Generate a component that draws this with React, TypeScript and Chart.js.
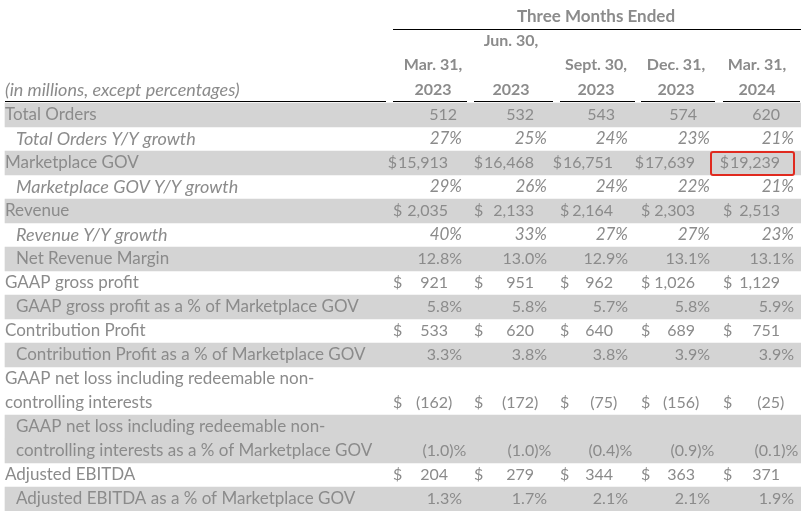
import React, { useEffect, useRef } from "react";
import { Chart, registerables } from "chart.js";

Chart.register(...registerables);

// ---------- data ----------
const periodTop = ["Mar. 31,", "Jun. 30,", "Sept. 30,", "Dec. 31,", "Mar. 31,"];
const periodYear = ["2023", "2023", "2023", "2023", "2024"];
const groupTitle = "Three Months Ended";
const unitNote = "(in millions, except percentages)";

const totalOrders = [512, 532, 543, 574, 620];
const totalOrdersGrowth = [27, 25, 24, 23, 21];
const marketplaceGOV = [15913, 16468, 16751, 17639, 19239];
const marketplaceGOVGrowth = [29, 26, 24, 22, 21];
const revenue = [2035, 2133, 2164, 2303, 2513];
const revenueGrowth = [40, 33, 27, 27, 23];
const netRevenueMargin = [12.8, 13.0, 12.9, 13.1, 13.1];
const gaapGrossProfit = [921, 951, 962, 1026, 1129];
const gaapGrossProfitPct = [5.8, 5.8, 5.7, 5.8, 5.9];
const contributionProfit = [533, 620, 640, 689, 751];
const contributionProfitPct = [3.3, 3.8, 3.8, 3.9, 3.9];
const gaapNetLoss = [-162, -172, -75, -156, -25];
const gaapNetLossPct = [-1.0, -1.0, -0.4, -0.9, -0.1];
const adjustedEBITDA = [204, 279, 344, 363, 371];
const adjustedEBITDAPct = [1.3, 1.7, 2.1, 2.1, 1.9];

type Fmt = "int" | "pct0" | "pct1" | "cur";
interface Row {
  label: string[];
  values: number[];
  fmt: Fmt;
  italic?: boolean;
  indent?: boolean;
  shaded: boolean;
}

const rows: Row[] = [
  { label: ["Total Orders"], values: totalOrders, fmt: "int", shaded: true },
  { label: ["Total Orders Y/Y growth"], values: totalOrdersGrowth, fmt: "pct0", italic: true, indent: true, shaded: false },
  { label: ["Marketplace GOV"], values: marketplaceGOV, fmt: "cur", shaded: true },
  { label: ["Marketplace GOV Y/Y growth"], values: marketplaceGOVGrowth, fmt: "pct0", italic: true, indent: true, shaded: false },
  { label: ["Revenue"], values: revenue, fmt: "cur", shaded: true },
  { label: ["Revenue Y/Y growth"], values: revenueGrowth, fmt: "pct0", italic: true, indent: true, shaded: false },
  { label: ["Net Revenue Margin"], values: netRevenueMargin, fmt: "pct1", indent: true, shaded: true },
  { label: ["GAAP gross profit"], values: gaapGrossProfit, fmt: "cur", shaded: false },
  { label: ["GAAP gross profit as a % of Marketplace GOV"], values: gaapGrossProfitPct, fmt: "pct1", indent: true, shaded: true },
  { label: ["Contribution Profit"], values: contributionProfit, fmt: "cur", shaded: false },
  { label: ["Contribution Profit as a % of Marketplace GOV"], values: contributionProfitPct, fmt: "pct1", indent: true, shaded: true },
  { label: ["GAAP net loss including redeemable non-", "controlling interests"], values: gaapNetLoss, fmt: "cur", shaded: false },
  { label: ["GAAP net loss including redeemable non-", "controlling interests as a % of Marketplace GOV"], values: gaapNetLossPct, fmt: "pct1", indent: true, shaded: true },
  { label: ["Adjusted EBITDA"], values: adjustedEBITDA, fmt: "cur", shaded: false },
  { label: ["Adjusted EBITDA as a % of Marketplace GOV"], values: adjustedEBITDAPct, fmt: "pct1", indent: true, shaded: true },
];
const highlight = { row: 2, col: 4 };

// ---------- layout / style ----------
const HEADER_LINES = 4;
const FONT = "Lato, 'Open Sans', sans-serif";
const LABEL_SIZE = 17;
const ITALIC_LABEL_SIZE = 18;
const VALUE_SIZE = 16;
const ITALIC_VALUE_SIZE = 17;
const TITLE_SIZE = 17;
const COLHEAD_SIZE = 16;
const TEXT = "#8b8b8b";
const SHADE = "#d4d4d4";
const LABEL_X = 5;
const INDENT_X = 16;
const colLeft = [393, 474, 560, 641, 723];
const colRight = [467, 553, 635, 715, 800];
const curRight = [448, 534, 613, 695, 780];
const plainRight = [457, 534, 615, 697, 780];
const pctRight = [462, 547, 628, 710, 794];
const colCenter = [433, 511, 596, 676, 757];
const topLineRow = [2, 1, 2, 2, 2];

// line table built from rows
const lineInfo: { row: number; sub: number }[] = [];
rows.forEach((r, i) => r.label.forEach((_, j) => lineInfo.push({ row: i, sub: j })));
const totalLines = HEADER_LINES + lineInfo.length;
const lineLabels = Array.from({ length: totalLines }, (_, i) => String(i));
const shadeData = lineLabels.map((_, i) =>
  i < HEADER_LINES ? null : rows[lineInfo[i - HEADER_LINES].row].shaded ? [LABEL_X, 801] : null
);

const fmtNum = (v: number, d = 0) =>
  Math.abs(v).toLocaleString("en-US", { minimumFractionDigits: d, maximumFractionDigits: d });

const tablePlugin = {
  id: "tableText",
  afterDatasetsDraw(chart: any) {
    const { ctx } = chart;
    const xs = chart.scales.x;
    const ys = chart.scales.y;
    const X = (v: number) => xs.getPixelForValue(v);
    const Y = (i: number) => ys.getPixelForValue(i);
    const font = (size: number, italic = false, weight = 400) =>
      `${italic ? "italic " : ""}${weight} ${size}px ${FONT}`;
    ctx.save();
    ctx.fillStyle = TEXT;
    ctx.textBaseline = "middle";

    // header
    ctx.font = font(TITLE_SIZE, false, 700);
    ctx.textAlign = "center";
    ctx.fillText(groupTitle, X(596), Y(0) - 2);
    ctx.font = font(COLHEAD_SIZE, false, 700);
    periodTop.forEach((t, c) => ctx.fillText(t, X(colCenter[c]), Y(topLineRow[c]) - 2));
    periodYear.forEach((t, c) => ctx.fillText(t, X(colCenter[c]), Y(3) - 1));
    ctx.font = font(ITALIC_LABEL_SIZE, true, 400);
    ctx.textAlign = "left";
    ctx.fillText(unitNote, X(LABEL_X), Y(3) - 1);

    // rules
    ctx.strokeStyle = "#000";
    ctx.lineWidth = 1;
    ctx.beginPath();
    ctx.moveTo(X(colLeft[0]), 29.5);
    ctx.lineTo(X(801), 29.5);
    const ruleY = Math.round(Y(HEADER_LINES) - ys.height / totalLines / 2) - 1.5;
    ctx.moveTo(X(LABEL_X), ruleY);
    ctx.lineTo(X(386), ruleY);
    colLeft.forEach((l, c) => {
      ctx.moveTo(X(l), ruleY);
      ctx.lineTo(X(colRight[c]), ruleY);
    });
    ctx.stroke();

    // body
    lineInfo.forEach((li, k) => {
      const r = rows[li.row];
      const y = Y(HEADER_LINES + k);
      ctx.font = font(r.italic ? ITALIC_LABEL_SIZE : LABEL_SIZE, !!r.italic, 400);
      ctx.textAlign = "left";
      ctx.fillText(r.label[li.sub], X(r.indent ? INDENT_X : LABEL_X), y);
      if (li.sub !== r.label.length - 1) return;
      ctx.font = font(r.italic ? ITALIC_VALUE_SIZE : VALUE_SIZE, !!r.italic, 400);
      r.values.forEach((v, c) => {
        const neg = v < 0;
        if (r.fmt === "int") {
          ctx.textAlign = "right";
          ctx.fillText(fmtNum(v), X(plainRight[c]), y);
        } else if (r.fmt === "cur") {
          const num = (neg ? "(" : "") + fmtNum(v);
          const numLeft = X(curRight[c]) - ctx.measureText(num).width;
          const dw = ctx.measureText("$").width;
          ctx.textAlign = "left";
          ctx.fillText("$", Math.min(X(colLeft[c]), numLeft - dw - 1), y);
          ctx.textAlign = "right";
          ctx.fillText(num, X(curRight[c]), y);
          if (neg) {
            ctx.textAlign = "left";
            ctx.fillText(")", X(curRight[c]), y);
          }
        } else {
          const d = r.fmt === "pct1" ? 1 : 0;
          const pw = ctx.measureText("%").width;
          const right = X(pctRight[c]) - pw;
          ctx.textAlign = "right";
          ctx.fillText((neg ? "(" : "") + fmtNum(v, d), right, y);
          ctx.textAlign = "left";
          ctx.fillText(neg ? ")%" : "%", right, y);
        }
      });
    });

    // highlight box
    const hk = lineInfo.findIndex((li) => li.row === highlight.row);
    const hy = Y(HEADER_LINES + hk);
    const bx0 = X(colLeft[highlight.col] - 12);
    ctx.strokeStyle = "#e02a1f";
    ctx.lineWidth = 2;
    ctx.beginPath();
    (ctx as any).roundRect(bx0, hy - 11, X(pctRight[highlight.col]) - bx0, 23, 2);
    ctx.stroke();
    ctx.restore();
  },
};

export default function App() {
  const ref = useRef<HTMLCanvasElement>(null);
  useEffect(() => {
    document.body.style.margin = "0";
    const chart = new Chart(ref.current!, {
      type: "bar",
      data: {
        labels: lineLabels,
        datasets: [
          {
            data: shadeData as any,
            backgroundColor: SHADE,
            borderWidth: 0,
            barPercentage: 1,
            categoryPercentage: 1,
          },
        ],
      },
      options: {
        indexAxis: "y",
        responsive: false,
        animation: false,
        layout: { padding: { top: 7, bottom: 2, left: 0, right: 0 } },
        scales: {
          x: { type: "linear", min: 0, max: 801, display: false },
          y: { type: "category", display: false },
        },
        plugins: { legend: { display: false }, tooltip: { enabled: false } },
      },
      plugins: [tablePlugin],
    });
    return () => chart.destroy();
  }, []);
  return (
    <div style={{ position: "absolute", left: 0, top: 0, width: 801, height: 513, background: "#fff" }}>
      <canvas ref={ref} width={801} height={513} />
    </div>
  );
}
